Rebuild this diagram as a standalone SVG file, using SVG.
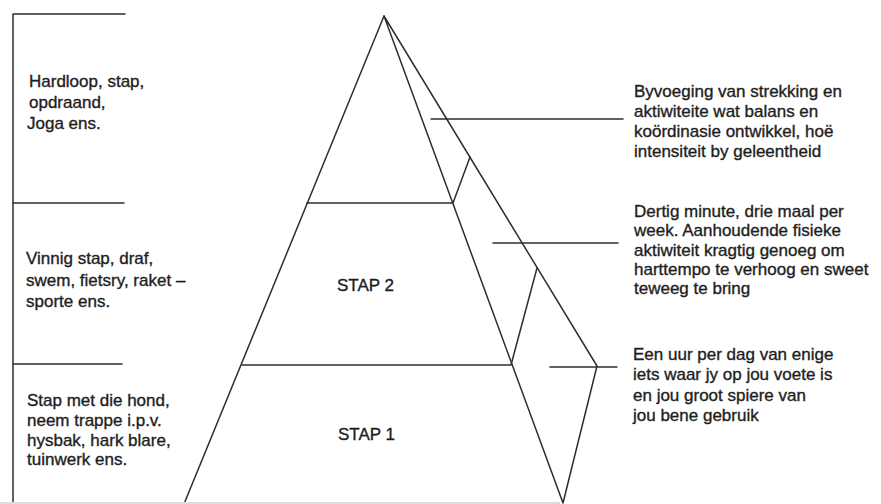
<svg xmlns="http://www.w3.org/2000/svg" width="881" height="504" viewBox="0 0 881 504">
<style>
.ln{stroke:#2e2e2e;stroke-width:1.5;fill:none;stroke-linecap:round;stroke-linejoin:round}
.tx{font-family:"Liberation Sans",Arial,sans-serif;font-size:17px;fill:#1e1e1e;stroke:#1e1e1e;stroke-width:0.35}
.edge{stroke:#dcdcdc;stroke-width:2;fill:none}
</style>
<rect width="881" height="504" fill="#ffffff"/>
<g id="pyramid">
<path class="ln" d="M384,16 L184,504"/>
<path class="ln" d="M384,16 L563,503 L597,366 L384,16"/>
<path class="ln" d="M307,203 L453,203 L470,157"/>
<path class="ln" d="M242,365 L511,365 L537,268"/>
</g>
<g id="bracket">
<path class="ln" d="M125,14 L13,14 L13,504"/>
<path class="ln" d="M13,203 L124,203"/>
<path class="ln" d="M13,364 L122,364"/>
</g>
<g id="stap2"><text class="tx" x="337" y="291">STAP 2</text></g>
<g id="stap1"><text class="tx" x="338" y="440">STAP 1</text></g>
<g id="left-top">
<text class="tx" x="29" y="87">Hardloop, stap,</text>
<text class="tx" x="29" y="108">opdraand,</text>
<text class="tx" x="27" y="129">Joga ens.</text>
</g>
<g id="left-mid">
<text class="tx" x="26" y="264">Vinnig stap, draf,</text>
<text class="tx" x="26" y="285.5">swem, fietsry, raket –</text>
<text class="tx" x="26" y="307">sporte ens.</text>
</g>
<g id="left-bottom">
<text class="tx" x="27" y="406">Stap met die hond,</text>
<text class="tx" x="27" y="426">neem trappe i.p.v.</text>
<text class="tx" x="27" y="445.5">hysbak, hark blare,</text>
<text class="tx" x="27" y="465">tuinwerk ens.</text>
</g>
<g id="right-top">
<text class="tx" x="634" y="97">Byvoeging van strekking en</text>
<text class="tx" x="634" y="117">aktiwiteite wat balans en</text>
<text class="tx" x="634" y="137">koördinasie ontwikkel, hoë</text>
<text class="tx" x="634" y="157">intensiteit by geleentheid</text>
</g>
<g id="right-mid">
<text class="tx" x="634" y="217">Dertig minute, drie maal per</text>
<text class="tx" x="634" y="236">week. Aanhoudende fisieke</text>
<text class="tx" x="634" y="255.5">aktiwiteit kragtig genoeg om</text>
<text class="tx" x="634" y="274.5">harttempo te verhoog en sweet</text>
<text class="tx" x="634" y="294">teweeg te bring</text>
</g>
<g id="right-bottom">
<text class="tx" x="633" y="360">Een uur per dag van enige</text>
<text class="tx" x="633" y="380">iets waar jy op jou voete is</text>
<text class="tx" x="633" y="401">en jou groot spiere van</text>
<text class="tx" x="633" y="421">jou bene gebruik</text>
</g>
<g id="connectors">
<path class="ln" d="M431,119 L623,119"/>
<path class="ln" d="M493,243 L618,243"/>
<path class="ln" d="M550,367 L617,367"/>
</g>
<path class="edge" d="M0,503 L560,503"/>
</svg>
